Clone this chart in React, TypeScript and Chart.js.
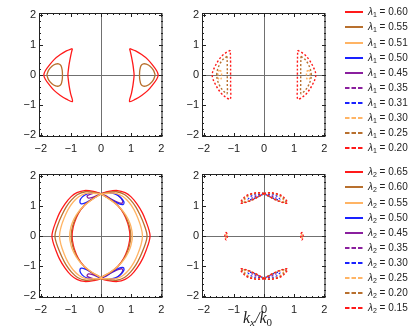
import React, { useEffect, useRef } from 'react';
import { Chart, registerables } from 'chart.js';

Chart.register(...registerables);

type Pt = [number, number];

// ---------- colours ----------
const RED = '#ff1a1a';
const BROWN = '#b8702e';
const ORANGE = '#ffb464';
const BLUE = '#1a22ff';
const PURPLE = '#8a1f9e';

// ---------- axis ticks ----------
const majorTicks = [-2, -1, 0, 1, 2];
const axisMin = -2.06;
const axisMax = 2.06;

// ---------- legend ----------
const lambda1Labels = ['0.60', '0.55', '0.51', '0.50', '0.45', '0.35', '0.31', '0.30', '0.25', '0.20'];
const lambda2Labels = ['0.65', '0.60', '0.55', '0.50', '0.45', '0.35', '0.30', '0.25', '0.20', '0.15'];
const legendColors = [RED, BROWN, ORANGE, BLUE, PURPLE, PURPLE, BLUE, ORANGE, BROWN, RED];
const legendDashed = [false, false, false, false, false, true, true, true, true, true];

// ---------- helpers for symmetric counterparts ----------
const fx = (p: Pt[]): Pt[] => p.map(([x, y]) => [-x, y] as Pt);
const fy = (p: Pt[]): Pt[] => p.map(([x, y]) => [x, -y] as Pt);

// ---------- panel 1 : lambda1, solid ----------
const tlRed60Left: Pt[] = [
  [-0.95, 0.88], [-1.15, 0.8], [-1.35, 0.68], [-1.55, 0.52], [-1.72, 0.32], [-1.85, 0.14], [-1.9, 0],
  [-1.85, -0.14], [-1.72, -0.32], [-1.55, -0.52], [-1.35, -0.68], [-1.15, -0.8], [-0.95, -0.88],
  [-1.01, -0.62], [-1.06, -0.35], [-1.09, -0.12], [-1.1, 0], [-1.09, 0.12], [-1.06, 0.35], [-1.01, 0.62], [-0.95, 0.88],
];
const tlBrown55Left: Pt[] = [
  [-1.8, 0], [-1.74, 0.16], [-1.63, 0.29], [-1.51, 0.36], [-1.41, 0.37], [-1.33, 0.31], [-1.29, 0.16], [-1.28, 0],
  [-1.29, -0.16], [-1.33, -0.31], [-1.41, -0.37], [-1.51, -0.36], [-1.63, -0.29], [-1.74, -0.16], [-1.8, 0],
];

// ---------- panel 2 : lambda1, dashed ----------
const trRed20Left: Pt[] = [
  [-1.12, 0.82], [-1.25, 0.75], [-1.39, 0.64], [-1.51, 0.49], [-1.62, 0.3], [-1.7, 0.12], [-1.72, 0],
  [-1.7, -0.12], [-1.62, -0.3], [-1.51, -0.49], [-1.39, -0.64], [-1.25, -0.75], [-1.12, -0.8],
  [-1.11, -0.4], [-1.11, 0], [-1.11, 0.4], [-1.12, 0.82],
];
const trBrown25Left: Pt[] = [
  [-1.23, 0.62], [-1.35, 0.53], [-1.46, 0.38], [-1.54, 0.19], [-1.57, 0], [-1.54, -0.19], [-1.46, -0.38],
  [-1.35, -0.53], [-1.23, -0.62], [-1.22, -0.3], [-1.22, 0], [-1.22, 0.3], [-1.23, 0.62],
];
const trOrange30Left: Pt[] = [
  [-1.47, 0.16], [-1.42, 0.11], [-1.41, 0], [-1.42, -0.11], [-1.47, -0.16], [-1.52, -0.11], [-1.53, 0], [-1.52, 0.11], [-1.47, 0.16],
];

// ---------- panel 3 : lambda2, solid ----------
const blRed65Left: Pt[] = [
  [0, 1.4], [-0.25, 1.48], [-0.55, 1.51], [-0.8, 1.44], [-1.0, 1.3], [-1.2, 1.06], [-1.38, 0.76], [-1.52, 0.42], [-1.6, 0.18], [-1.63, 0],
  [-1.6, -0.18], [-1.52, -0.42], [-1.38, -0.76], [-1.2, -1.06], [-1.0, -1.3], [-0.8, -1.44], [-0.55, -1.51], [-0.25, -1.48], [0, -1.4],
  [-0.3, -1.22], [-0.55, -1.02], [-0.75, -0.75], [-0.89, -0.42], [-0.95, -0.15], [-0.96, 0],
  [-0.95, 0.15], [-0.89, 0.42], [-0.75, 0.75], [-0.55, 1.02], [-0.3, 1.22], [0, 1.4],
];
const blBrown60Left: Pt[] = [
  [0, 1.4], [-0.25, 1.45], [-0.52, 1.47], [-0.78, 1.38], [-0.98, 1.2], [-1.16, 0.96], [-1.31, 0.67], [-1.44, 0.36], [-1.51, 0.14], [-1.53, 0],
  [-1.51, -0.14], [-1.44, -0.36], [-1.31, -0.67], [-1.16, -0.96], [-0.98, -1.2], [-0.78, -1.38], [-0.52, -1.47], [-0.25, -1.45], [0, -1.4],
  [-0.31, -1.21], [-0.57, -1.0], [-0.78, -0.73], [-0.92, -0.41], [-0.98, -0.15], [-0.99, 0],
  [-0.98, 0.15], [-0.92, 0.41], [-0.78, 0.73], [-0.57, 1.0], [-0.31, 1.21], [0, 1.4],
];
const blOrange55Left: Pt[] = [
  [0, 1.4], [-0.25, 1.42], [-0.5, 1.42], [-0.73, 1.31], [-0.93, 1.12], [-1.1, 0.87], [-1.23, 0.58], [-1.33, 0.29], [-1.38, 0],
  [-1.33, -0.29], [-1.23, -0.58], [-1.1, -0.87], [-0.93, -1.12], [-0.73, -1.31], [-0.5, -1.42], [-0.25, -1.42], [0, -1.4],
  [-0.32, -1.19], [-0.6, -0.97], [-0.82, -0.7], [-0.97, -0.4], [-1.03, -0.15], [-1.04, 0],
  [-1.03, 0.15], [-0.97, 0.4], [-0.82, 0.7], [-0.6, 0.97], [-0.32, 1.19], [0, 1.4],
];
const blBlue50TopLeft: Pt[] = [
  [0, 1.4], [-0.26, 1.44], [-0.46, 1.4], [-0.62, 1.3], [-0.7, 1.17], [-0.66, 1.07], [-0.52, 1.1], [-0.32, 1.21], [-0.14, 1.33], [0, 1.4],
];
const blBlue50TopRight: Pt[] = [
  [0, 1.4], [0.25, 1.43], [0.48, 1.39], [0.65, 1.28], [0.76, 1.14], [0.74, 1.05], [0.6, 1.07], [0.4, 1.18], [0.18, 1.31], [0, 1.4],
];
const blPurple45TopLeft: Pt[] = [
  [0, 1.4], [-0.15, 1.43], [-0.32, 1.4], [-0.46, 1.33], [-0.42, 1.26], [-0.26, 1.29], [-0.1, 1.36], [0, 1.4],
];
const blPurple45TopRight: Pt[] = [
  [0, 1.4], [0.2, 1.45], [0.42, 1.43], [0.6, 1.33], [0.72, 1.16], [0.7, 1.09], [0.56, 1.12], [0.35, 1.22], [0.15, 1.34], [0, 1.4],
];

// ---------- panel 4 : lambda2, dashed ----------
const brRed15TopLeft: Pt[] = [
  [0, 1.41], [-0.2, 1.44], [-0.4, 1.41], [-0.57, 1.35], [-0.7, 1.24], [-0.78, 1.1], [-0.68, 1.1], [-0.48, 1.16], [-0.25, 1.27], [0, 1.41],
];
const brBrown20TopLeft: Pt[] = [
  [0, 1.41], [-0.2, 1.43], [-0.4, 1.4], [-0.56, 1.33], [-0.67, 1.22], [-0.74, 1.11], [-0.64, 1.12], [-0.45, 1.18], [-0.24, 1.28], [0, 1.41],
];
const brOrange25TopLeft: Pt[] = [
  [0, 1.41], [-0.2, 1.42], [-0.38, 1.39], [-0.53, 1.32], [-0.63, 1.22], [-0.68, 1.14], [-0.58, 1.14], [-0.42, 1.19], [-0.22, 1.29], [0, 1.41],
];
const brBlue30TopLeft: Pt[] = [
  [0, 1.41], [-0.18, 1.41], [-0.34, 1.37], [-0.47, 1.29], [-0.53, 1.21], [-0.44, 1.21], [-0.28, 1.27], [-0.13, 1.34], [0, 1.41],
];
const brPurple35TopLeft: Pt[] = [
  [0, 1.41], [-0.15, 1.38], [-0.3, 1.32], [-0.4, 1.26], [-0.3, 1.27], [-0.15, 1.33], [0, 1.41],
];
const brRed15SideLeft: Pt[] = [
  [-1.26, 0.13], [-1.23, 0.08], [-1.22, 0], [-1.23, -0.08], [-1.26, -0.13], [-1.29, -0.08], [-1.3, 0], [-1.29, 0.08], [-1.26, 0.13],
];
const brOrange25SideLeft: Pt[] = [
  [-1.26, 0.07], [-1.245, 0.04], [-1.24, 0], [-1.245, -0.04], [-1.26, -0.07], [-1.275, -0.04], [-1.28, 0], [-1.275, 0.04], [-1.26, 0.07],
];

type Curve = { pts: Pt[]; color: string; dashed: boolean };

const quad = (p: Pt[]): Pt[][] => [p, fx(p), fy(p), fx(fy(p))];

const panel1: Curve[] = [
  ...[tlRed60Left, fx(tlRed60Left)].map((pts) => ({ pts, color: RED, dashed: false })),
  ...[tlBrown55Left, fx(tlBrown55Left)].map((pts) => ({ pts, color: BROWN, dashed: false })),
];
const panel2: Curve[] = [
  ...[trRed20Left, fx(trRed20Left)].map((pts) => ({ pts, color: RED, dashed: true })),
  ...[trBrown25Left, fx(trBrown25Left)].map((pts) => ({ pts, color: BROWN, dashed: true })),
  ...[trOrange30Left, fx(trOrange30Left)].map((pts) => ({ pts, color: ORANGE, dashed: true })),
];
const panel3: Curve[] = [
  ...[blOrange55Left, fx(blOrange55Left)].map((pts) => ({ pts, color: ORANGE, dashed: false })),
  ...[blBrown60Left, fx(blBrown60Left)].map((pts) => ({ pts, color: BROWN, dashed: false })),
  ...[blRed65Left, fx(blRed65Left)].map((pts) => ({ pts, color: RED, dashed: false })),
  ...[blBlue50TopLeft, blBlue50TopRight, fy(blBlue50TopLeft), fy(blBlue50TopRight)].map((pts) => ({ pts, color: BLUE, dashed: false })),
  ...[blPurple45TopLeft, blPurple45TopRight, fy(blPurple45TopLeft), fy(blPurple45TopRight)].map((pts) => ({ pts, color: PURPLE, dashed: false })),
];
const panel4: Curve[] = [
  ...quad(brRed15TopLeft).map((pts) => ({ pts, color: RED, dashed: true })),
  ...quad(brBrown20TopLeft).map((pts) => ({ pts, color: BROWN, dashed: true })),
  ...quad(brOrange25TopLeft).map((pts) => ({ pts, color: ORANGE, dashed: true })),
  ...quad(brBlue30TopLeft).map((pts) => ({ pts, color: BLUE, dashed: true })),
  ...quad(brPurple35TopLeft).map((pts) => ({ pts, color: PURPLE, dashed: true })),
  ...[brRed15SideLeft, fx(brRed15SideLeft)].map((pts) => ({ pts, color: RED, dashed: true })),
  ...[brOrange25SideLeft, fx(brOrange25SideLeft)].map((pts) => ({ pts, color: ORANGE, dashed: true })),
];

// ---------- layout ----------
const CW = 170;
const CH = 157;
const AXIS_W = 39;
const AXIS_H = 20;
const PAD_TOP = 13;
const PAD_RIGHT = 7;
const TICK_FONT = { family: "'Liberation Sans', Arial, sans-serif", size: 11 };

const fmt = (v: number) => (v < 0 ? '\u2212' + Math.abs(v) : String(v));

const framePlugin = {
  id: 'frameTicks',
  beforeDatasetsDraw(chart: any) {
    const { ctx, chartArea: a, scales } = chart;
    const x0 = Math.round(scales.x.getPixelForValue(0)) + 0.5;
    const y0 = Math.round(scales.y.getPixelForValue(0)) + 0.5;
    ctx.save();
    ctx.strokeStyle = '#707070';
    ctx.lineWidth = 1;
    ctx.beginPath();
    ctx.moveTo(x0, a.top);
    ctx.lineTo(x0, a.bottom);
    ctx.moveTo(a.left, y0);
    ctx.lineTo(a.right, y0);
    ctx.stroke();
    ctx.restore();
  },
  afterDatasetsDraw(chart: any) {
    const { ctx, chartArea: a, scales } = chart;
    ctx.save();
    ctx.strokeStyle = '#222';
    ctx.lineWidth = 1;
    ctx.strokeRect(a.left + 0.5, a.top + 0.5, a.right - a.left - 1, a.bottom - a.top - 1);
    ctx.strokeStyle = '#888';
    ctx.lineWidth = 2;
    ctx.beginPath();
    ctx.moveTo(a.right - 1, a.top);
    ctx.lineTo(a.right - 1, a.bottom);
    ctx.stroke();
    ctx.strokeStyle = '#222';
    ctx.lineWidth = 1;
    ctx.beginPath();
    for (let i = 0; i < majorTicks.length; i++) {
      for (let k = 0; k < 5; k++) {
        const v = majorTicks[i] + k * 0.2;
        if (v > 2.001) continue;
        const len = k === 0 ? 4 : 2;
        const px = Math.round(scales.x.getPixelForValue(v)) + 0.5;
        const py = Math.round(scales.y.getPixelForValue(v)) + 0.5;
        ctx.moveTo(px, a.bottom);
        ctx.lineTo(px, a.bottom - len);
        ctx.moveTo(px, a.top);
        ctx.lineTo(px, a.top + len);
        ctx.moveTo(a.left, py);
        ctx.lineTo(a.left + len, py);
        ctx.moveTo(a.right, py);
        ctx.lineTo(a.right - len, py);
      }
    }
    ctx.stroke();
    ctx.restore();
  },
};

const axisOpts = (isX: boolean) => ({
  type: 'linear' as const,
  min: axisMin,
  max: axisMax,
  grid: { display: false, drawTicks: false },
  border: { display: false },
  ticks: {
    padding: isX ? 5 : 3,
    font: TICK_FONT,
    color: '#222',
    autoSkip: false,
    maxRotation: 0,
    callback: (v: any) => fmt(Number(v)),
  },
  afterBuildTicks: (s: any) => {
    s.ticks = majorTicks.map((value) => ({ value }));
  },
  afterFit: (s: any) => {
    if (isX) s.height = AXIS_H;
    else s.width = AXIS_W;
  },
});

function Panel({ left, top, curves }: { left: number; top: number; curves: Curve[] }) {
  const ref = useRef<HTMLCanvasElement>(null);
  useEffect(() => {
    if (!ref.current) return;
    const chart = new Chart(ref.current, {
      type: 'scatter',
      data: {
        datasets: curves.map((c) => ({
          data: c.pts.map(([x, y]) => ({ x, y })),
          showLine: true,
          borderColor: c.color,
          backgroundColor: c.color,
          borderWidth: c.dashed ? 1.4 : 1.3,
          borderDash: c.dashed ? [2, 2] : [],
          pointRadius: 0,
          tension: 0.35,
          fill: false,
        })),
      },
      options: {
        animation: false,
        responsive: false,
        devicePixelRatio: 1,
        layout: { padding: { top: PAD_TOP, right: PAD_RIGHT, left: 0, bottom: 0 } },
        plugins: { legend: { display: false }, tooltip: { enabled: false } },
        scales: { x: axisOpts(true), y: axisOpts(false) } as any,
      },
      plugins: [framePlugin],
    });
    return () => chart.destroy();
  }, []);
  return (
    <canvas
      ref={ref}
      width={CW}
      height={CH}
      style={{ position: 'absolute', left, top, width: CW, height: CH }}
    />
  );
}

function Legend({ top, sub, labels }: { top: number; sub: string; labels: string[] }) {
  return (
    <>
      {labels.map((lab, i) => (
        <div
          key={i}
          style={{
            position: 'absolute',
            left: 345,
            top: top + i * 15.1 - 7,
            height: 14,
            display: 'flex',
            alignItems: 'center',
            whiteSpace: 'nowrap',
            fontFamily: "'Liberation Sans', Arial, sans-serif",
            fontSize: 10,
            color: '#222',
          }}
        >
          <svg width={18} height={4} style={{ display: 'block' }}>
            <line
              x1={0}
              y1={2}
              x2={18}
              y2={2}
              stroke={legendColors[i]}
              strokeWidth={2}
              strokeDasharray={legendDashed[i] ? '4.5 2' : undefined}
            />
          </svg>
          <span style={{ marginLeft: 5 }}>
            <span style={{ fontStyle: 'italic' }}>λ</span>
            <sub style={{ fontSize: 7, verticalAlign: -2 }}>{sub}</sub> = {lab}
          </span>
        </div>
      ))}
    </>
  );
}

export default function App() {
  return (
    <div style={{ position: 'fixed', left: 0, top: 0, width: 415, height: 334, background: '#fff', overflow: 'hidden' }}>
      <Panel left={0} top={0} curves={panel1} />
      <Panel left={163} top={0} curves={panel2} />
      <Panel left={0} top={161} curves={panel3} />
      <Panel left={163} top={161} curves={panel4} />
      <Legend top={12.3} sub="1" labels={lambda1Labels} />
      <Legend top={172.3} sub="2" labels={lambda2Labels} />
      <div
        style={{
          position: 'absolute',
          left: 243,
          top: 310,
          fontFamily: "'Liberation Serif', 'DejaVu Serif', serif",
          fontStyle: 'italic',
          fontSize: 16,
          color: '#222',
          whiteSpace: 'nowrap',
          lineHeight: '16px',
        }}
      >
        k<sub style={{ fontSize: 11, verticalAlign: -3 }}>x</sub>/k
        <sub style={{ fontSize: 11, verticalAlign: -3, fontStyle: 'normal' }}>0</sub>
      </div>
    </div>
  );
}
